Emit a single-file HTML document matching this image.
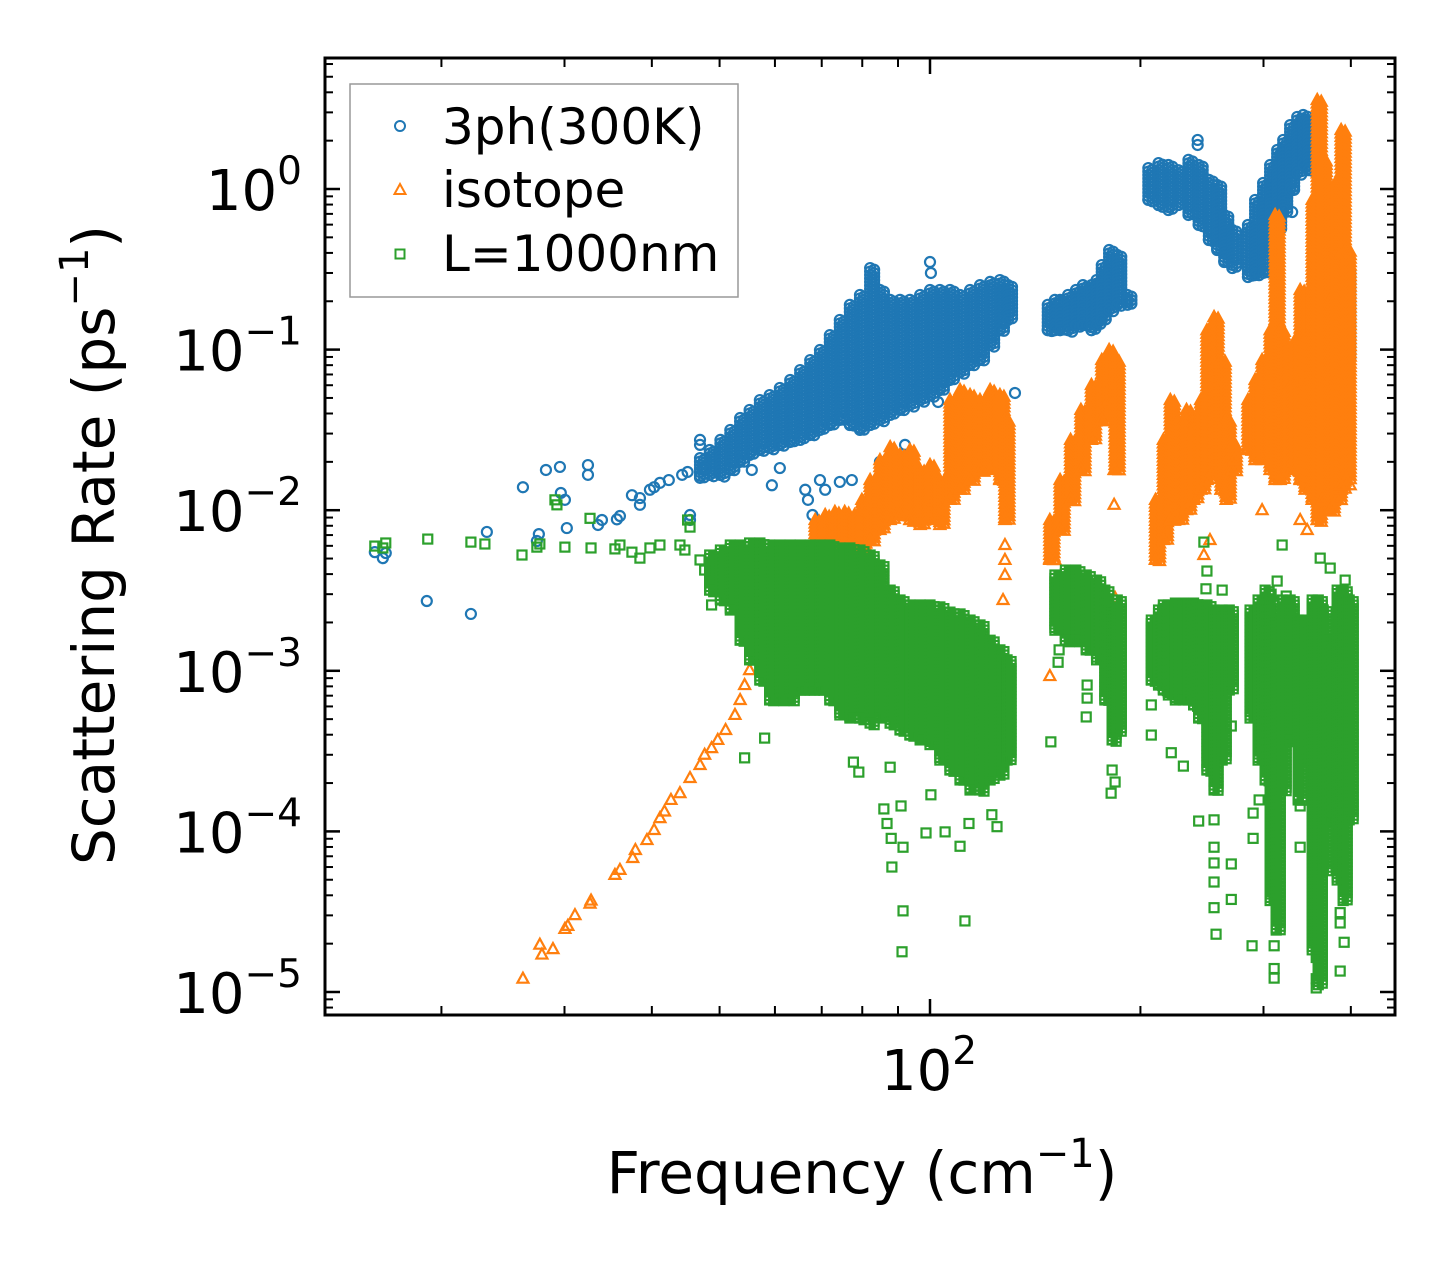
<!DOCTYPE html>
<html>
<head>
<meta charset="utf-8">
<style>
  html, body { margin:0; padding:0; background:#fff; }
  svg { display:block; font-family:"DejaVu Sans","Liberation Sans",sans-serif; }
</style>
</head>
<body>
<svg id="chart" width="1455" height="1265" viewBox="0 0 1455 1265" xmlns="http://www.w3.org/2000/svg">
  <rect x="0" y="0" width="1455" height="1265" fill="#fff"/>
  <g id="marks"></g>
  <g id="ticks"></g>
  <rect x="325" y="58" width="1070" height="957" fill="none" stroke="#000" stroke-width="3"/>
  <g id="ylabels"></g>
  <text x="929" y="1090" text-anchor="middle" font-size="56">10<tspan font-size="39" dy="-26">2</tspan></text>
  <text x="862" y="1193" text-anchor="middle" font-size="58">Frequency (cm<tspan font-size="40" dy="-26">−1</tspan><tspan dy="26">)</tspan></text>
  <text transform="translate(114,545) rotate(-90)" text-anchor="middle" font-size="58">Scattering Rate (ps<tspan font-size="40" dy="-26">−1</tspan><tspan dy="26">)</tspan></text>
  <g>
    <rect x="350" y="84" width="388" height="213" fill="#fff" stroke="#999" stroke-width="1.5"/>
    <circle cx="400" cy="126" r="5" fill="none" stroke="#1f77b4" stroke-width="2"/>
    <text x="442" y="144" font-size="50">3ph(300K)</text>
    <polygon points="400,184 405.5,194 394.5,194" fill="none" stroke="#ff7f0e" stroke-width="2"/>
    <text x="442" y="207" font-size="50">isotope</text>
    <rect x="395.5" y="249.5" width="9" height="9" fill="none" stroke="#2ca02c" stroke-width="2"/>
    <text x="442" y="271" font-size="50">L=1000nm</text>
  </g>
</svg>
<script>
// ---------- data (frequency in cm^-1, rate in ps^-1) ----------
const blueFreq = [16.06,16.49,16.65,19.06,22.04,23.23,26.16,27.57,27.39,28.22,29.55,29.64,32.41,32.41,30.04,30.23,33.5,33.94,35.65,36.01,37.46,38.46,38.46,39.75,40.3,41.08,42.3,44.2,45.0,45.36,45.36,46.88,46.88,47.6,55.6,59.4,60.98,66.3,66.9,67.9,69.6,70.8,74.3,77.3,84.8,92.1,94.5,100,100.3,102.7,110.4,116,132.3,191.6,241.5,241.5,329.7,330.8];
const blueRate = [0.00548,0.00503,0.00541,0.00272,0.00226,0.00732,0.0139,0.0071,0.00643,0.0178,0.0186,0.0128,0.0191,0.0166,0.0116,0.00774,0.00809,0.00869,0.00877,0.0092,0.0124,0.0119,0.0108,0.0134,0.0139,0.0148,0.0154,0.0166,0.0173,0.00933,0.00869,0.0274,0.0255,0.0183,0.0178,0.0143,0.0183,0.0134,0.0116,0.00933,0.0154,0.0134,0.015,0.0154,0.02,0.0255,0.056,0.351,0.3,0.0472,0.0274,0.0281,0.0537,0.204,2.02,1.88,0.719,0.986];
const blueBandFreq = [46.88,48.4,50.14,51.8,53.5,55.2,57.1,58.97,60.98,63.1,65.2,67.4,69.6,71.9,74.3,76.8,79.4,82.1,84.8,87.7,90.6,93.6,96.8,100,103.3,106.8,110.4,114.1,117.9,121.9,125.9,129.3,
  147.4,150.9,153.5,157.6,161.7,165.5,170.2,173.1,176.1,180.4,185.3,191.6,
  205.3,212.3,219.3,226.7,234.3,242.3,250.6,257.5,263.6,270.7,
  285.0,291.8,299.6,306.6,313.8,320.1,327.5,335.2,341.9,347.5,364.0,373.7,383.6,393.9];
const blueBandHigh = [0.0211,0.0237,0.0274,0.0316,0.0375,0.0421,0.0485,0.0521,0.0577,0.0647,0.0746,0.0861,0.0994,0.123,0.153,0.19,0.219,0.322,0.235,0.204,0.204,0.204,0.219,0.235,0.235,0.235,0.219,0.235,0.252,0.264,0.271,0.252,
  0.19,0.204,0.204,0.219,0.235,0.252,0.252,0.271,0.336,0.417,0.388,0.219,
  1.35,1.45,1.41,1.31,1.52,1.41,1.14,1.06,0.689,0.556,
  0.597,0.855,1.09,1.41,1.75,2.02,2.50,2.81,2.89,2.69,0.481,0.481,0.417,0.313];
const blueBandLow = [0.0159,0.0166,0.0166,0.0178,0.02,0.0221,0.0237,0.0244,0.0255,0.0266,0.0274,0.0294,0.0316,0.0339,0.0365,0.0339,0.0316,0.0339,0.0365,0.0392,0.0421,0.0452,0.0485,0.0521,0.056,0.0647,0.0725,0.0802,0.0861,0.107,0.132,0.153,
  0.132,0.132,0.132,0.132,0.142,0.142,0.132,0.142,0.153,0.1766,0.19,0.19,
  0.855,0.795,0.74,0.795,0.689,0.597,0.481,0.417,0.351,0.322,
  0.283,0.291,0.300,0.417,0.556,0.74,0.986,1.26,1.41,1.31,0.204,0.132,0.0647,0.0861];

const isoFreq = [26.16,27.66,27.85,28.88,30.04,30.33,31.05,32.63,32.74,35.42,36.01,37.56,37.89,39.36,40.3,41.08,41.7,42.6,43.88,45.36,46.88,47.6,48.7,49.7,51.0,52.6,53.5,54.3,55.2,56.2,57.5,58.97,59.9,60.98,63.1,65.2,67.4,69.6,
  148.4,150.9,183.4,183.4,184.0,128.0,128.0,128.0,127.2,246.5,251.5,272.5,298.6,338.5,346.4,399.1,386.2];
const isoRate = [1.21e-5,1.97e-5,1.71e-5,1.85e-5,2.47e-5,2.58e-5,3.01e-5,3.55e-5,3.71e-5,5.36e-5,5.76e-5,6.83e-5,7.66e-5,8.83e-5,1.02e-4,1.21e-4,1.33e-4,1.57e-4,1.73e-4,2.15e-4,2.59e-4,3.0e-4,3.30e-4,3.71e-4,4.28e-4,5.31e-4,6.58e-4,8.15e-4,1.01e-3,1.25e-3,1.55e-3,1.93e-3,2.22e-3,2.57e-3,3.18e-3,3.67e-3,4.56e-3,5.26e-3,
  9.27e-4,4.9e-3,0.0178,0.0108,0.00284,0.00607,0.0049,0.00395,0.00276,0.00526,0.00652,0.0205,0.01,0.00869,0.00753,0.0143,0.0143];
const isoBandFreq = [68.5,70.8,73.1,75.5,78.0,79.9,82.1,84.8,87.7,90.6,93.6,96.8,100,103.3,106.8,110.4,114.1,117.9,121.9,125.9,128.0,
  148.4,153.5,158.9,164.4,170.2,176.1,180.4,184.0,
  210.2,215.7,220.7,226.7,232.8,238.3,243.9,249.0,254.9,260.9,265.3,270.7,
  285.0,291.8,298.6,306.6,311.7,316.9,325.4,333.0,338.5,344.1,352.2,358.1,364.0,373.7,382.4,387.4,393.9];
const isoBandHigh = [0.00869,0.00933,0.00975,0.00975,0.00933,0.0116,0.0154,0.0205,0.0247,0.0221,0.0237,0.0178,0.0191,0.0154,0.0485,0.056,0.0521,0.0485,0.056,0.0521,0.0365,
  0.00869,0.0154,0.0274,0.0421,0.0602,0.0861,0.0994,0.0861,
  0.0116,0.0274,0.0485,0.0365,0.0421,0.0316,0.0485,0.132,0.1596,0.0861,0.0365,0.0255,
  0.0485,0.0647,0.0861,0.132,0.689,0.132,0.056,0.1148,0.235,0.1148,0.855,3.58,1.52,0.204,1.14,2.33,0.417];
const isoBandLow = [0.0049,0.0049,0.00424,0.00424,0.00456,0.0049,0.00652,0.00753,0.00869,0.00933,0.00869,0.00809,0.00869,0.00809,0.0116,0.0134,0.0154,0.0178,0.0178,0.0154,0.00869,
  0.0049,0.00753,0.0116,0.0178,0.0274,0.0365,0.0485,0.0178,
  0.0049,0.00652,0.00869,0.00869,0.01,0.0116,0.0134,0.0154,0.0178,0.0134,0.0116,0.0178,
  0.0237,0.0205,0.0205,0.0178,0.0154,0.0154,0.0178,0.0178,0.0154,0.0134,0.0116,0.00869,0.0116,0.01,0.0116,0.0134,0.0154];

const bndFreq = [16.06,16.65,16.49,19.12,22.04,23.08,26.08,27.39,27.66,29.07,29.26,30.04,32.63,32.74,35.42,36.01,37.46,38.46,39.75,41.08,43.88,45.0,45.36,44.6,46.88,47.6,48.7,54.3,58.0,77.7,79.1,87.7,85.9,90.9,86.8,88.0,91.5,88.2,91.5,91.2,112.2,98.7,105.1,110.4,100.3,113.7,122.6,124.7,
  148.9,182.2,184.0,181.6,167.3,167.8,167.8,152.5,153.0,246.5,249.0,248.2,261.8,207.3,207.3,230.4,221.4,254.9,242.3,254.9,254.9,269.8,254.9,269.8,254.9,256.6,269.8,
  319.0,313.8,307.6,323.3,361.6,392.6,373.7,288.9,310.7,310.7,310.7,356.9,356.9,386.2,391.3,386.2,289.9,289.9,295.7,338.5,338.5,356.9,386.2];
const bndRate = [0.00598,0.00625,0.00582,0.00661,0.00633,0.00616,0.00526,0.00589,0.00616,0.0116,0.0108,0.00589,0.0089,0.00582,0.00574,0.00607,0.00548,0.00503,0.00582,0.00607,0.00607,0.00869,0.00785,0.00565,0.0049,0.00424,0.00257,0.000287,0.000381,0.00027,0.000234,0.000251,0.000138,0.000144,0.000112,0.0000905,0.0000797,0.00006,0.000032,0.0000178,0.0000277,0.0000978,0.0000993,0.0000808,0.000169,0.000112,0.000127,0.000107,
  0.000361,0.000241,0.000203,0.000173,0.000516,0.000676,0.000815,0.00113,0.00135,0.00633,0.00418,0.00324,0.00318,0.000613,0.000398,0.000255,0.000309,0.000118,0.000116,0.0000797,0.0000636,0.0000627,0.0000484,0.0000377,0.0000335,0.0000229,0.000453,
  0.00607,0.00362,0.003,0.00292,0.00503,0.00367,0.00436,0.0000194,0.0000194,0.000014,0.0000122,0.0000121,0.0000106,0.0000135,0.0000204,0.0000312,0.0000905,0.00013,0.000157,0.0000797,0.000144,0.0000164,0.0000269];
const bndBandFreq = [48.4,50.14,51.8,53.5,55.2,57.1,58.97,60.98,63.1,65.2,67.4,69.6,71.9,74.3,76.8,79.4,82.1,84.8,87.7,90.6,93.6,96.8,100,103.3,106.8,110.4,114.1,117.9,121.9,125.9,128.9,
  150.9,156.2,161.7,167.3,173.1,177.9,182.2,185.3,
  207.3,212.3,215.7,219.3,224.4,230.4,234.3,238.3,242.3,249.0,254.9,261.8,268.0,
  287.0,294.7,301.6,306.6,312.8,319.0,327.5,336.3,344.1,352.2,359.3,365.2,373.7,382.4,390.0,397.8];
const bndBandHigh = [0.00526,0.00565,0.00607,0.00607,0.00625,0.00625,0.00607,0.00607,0.00607,0.00607,0.00607,0.00607,0.00607,0.00582,0.00582,0.00565,0.00526,0.00456,0.00318,0.00276,0.00257,0.00257,0.00257,0.0025,0.00232,0.00226,0.00207,0.00193,0.00155,0.00135,0.00117,
  0.00395,0.00424,0.00424,0.00395,0.00367,0.00318,0.00239,0.00276,
  0.00207,0.00239,0.00257,0.00257,0.00264,0.00264,0.00264,0.00264,0.00257,0.00257,0.00239,0.00239,0.00239,
  0.00239,0.00276,0.00318,0.00276,0.00207,0.00276,0.00276,0.00207,0.00207,0.00276,0.00276,0.00239,0.00155,0.00318,0.00318,0.00276];
const bndBandLow = [0.00318,0.00276,0.00239,0.00155,0.00117,0.000875,0.000658,0.000658,0.000658,0.000759,0.000759,0.000759,0.000658,0.000531,0.000508,0.000508,0.000473,0.000508,0.000473,0.000428,0.000398,0.000371,0.000347,0.000278,0.000241,0.000209,0.000181,0.000181,0.000209,0.000224,0.000278,
  0.00179,0.00155,0.00155,0.00135,0.00117,0.000658,0.000371,0.000428,
  0.000875,0.000815,0.000759,0.000707,0.000658,0.000658,0.000658,0.000613,0.000508,0.000241,0.000181,0.000278,0.000759,
  0.000508,0.000278,0.000209,0.0000371,0.0000243,0.000181,0.000371,0.000157,0.000278,0.0000183,0.0000111,0.0000576,0.000118,0.0000498,0.0000371,0.000118];

const yTickExps = [0,-1,-2,-3,-4,-5];
const yTickLabels = ["0","−1","−2","−3","−4","−5"];
const xMinorTicks = [20,30,40,50,60,70,80,90,200,300,400];
const xMajorTicks = [100];

// ---------- axes ----------
const PX = {left:325, right:1395, top:58, bottom:1015};
function X(f){ return 930 + 699*(Math.log10(f) - 2); }
function Y(r){ return 189 - 160.6*Math.log10(r); }

const NS = "http://www.w3.org/2000/svg";
const marks = document.getElementById("marks");
const ticks = document.getElementById("ticks");
const ylabels = document.getElementById("ylabels");

function mk(tag, attrs, parent){
  const el = document.createElementNS(NS, tag);
  for (const k in attrs) el.setAttribute(k, attrs[k]);
  parent.appendChild(el);
  return el;
}

function drawMarker(kind, cx, cy, g){
  let el;
  if (kind === "circle"){
    el = mk("circle", {cx:cx, cy:cy, r:5, fill:"none", stroke:"#1f77b4", "stroke-width":2.2}, g);
    
  } else if (kind === "triangle"){
    el = mk("polygon", {points:(cx)+","+(cy-6)+" "+(cx+5.5)+","+(cy+4)+" "+(cx-5.5)+","+(cy+4), fill:"none", stroke:"#ff7f0e", "stroke-width":2.2}, g);
    
  } else {
    el = mk("rect", {x:cx-4.5, y:cy-4.5, width:9, height:9, fill:"none", stroke:"#2ca02c", "stroke-width":2.2}, g);
    
  }
  
}

function drawSeries(kind, name, freq, rate, bFreq, bHigh, bLow){
  const g = mk("g", {}, marks);
  
  
  for (let i=0;i<bFreq.length;i++){
    const cx = X(bFreq[i]);
    const y0 = Y(bHigh[i]), y1 = Y(bLow[i]);
    for (let y=y0; y<=y1+0.1; y+=3.5){
      drawMarker(kind, cx, y, g);
      drawMarker(kind, cx+4, y+1.7, g);
    }
    drawMarker(kind, cx, y1, g);
  }
  for (let i=0;i<freq.length;i++) drawMarker(kind, X(freq[i]), Y(rate[i]), g);
}

drawSeries("circle", "series-3ph", blueFreq, blueRate, blueBandFreq, blueBandHigh, blueBandLow);
drawSeries("triangle", "series-isotope", isoFreq, isoRate, isoBandFreq, isoBandHigh, isoBandLow);
drawSeries("square", "series-l1000nm", bndFreq, bndRate, bndBandFreq, bndBandHigh, bndBandLow);

// ---------- ticks ----------
function tickLine(x1,y1,x2,y2,w,name){
  const l = mk("line", {x1:x1,y1:y1,x2:x2,y2:y2,stroke:"#000","stroke-width":w}, ticks);
  
  
}
for (let e=-6; e<=0; e++){
  for (let m=1; m<10; m++){
    const v = m*Math.pow(10,e);
    const y = Y(v);
    if (y < PX.top || y > PX.bottom) continue;
    const major = (m===1);
    const len = major ? 15 : 8;
    const w = major ? 2.5 : 2;
    tickLine(PX.left, y, PX.left+len, y, w, major ? 'y-major-tick' : 'y-minor-tick');
    tickLine(PX.right, y, PX.right-len, y, w, major ? 'y-major-tick-right' : 'y-minor-tick-right');
  }
}
xMinorTicks.forEach(f => {
  const x = X(f);
  tickLine(x, PX.bottom, x, PX.bottom-9, 2, 'x-minor-tick');
  tickLine(x, PX.top, x, PX.top+9, 2, 'x-minor-tick-top');
});
xMajorTicks.forEach(f => {
  const x = X(f);
  tickLine(x, PX.bottom, x, PX.bottom-16, 2.5, 'x-major-tick');
  tickLine(x, PX.top, x, PX.top+16, 2.5, 'x-major-tick-top');
});
yTickExps.forEach((e,i) => {
  const y = Y(Math.pow(10,e));
  const t = mk("text", {x:302, y:y+21, "text-anchor":"end", "font-size":56}, ylabels);
  
  
  t.appendChild(document.createTextNode("10"));
  const s = document.createElementNS(NS, "tspan");
  s.setAttribute("font-size", "39");
  s.setAttribute("dy", "-26");
  s.textContent = yTickLabels[i];
  t.appendChild(s);
});
</script>
</body>
</html>
